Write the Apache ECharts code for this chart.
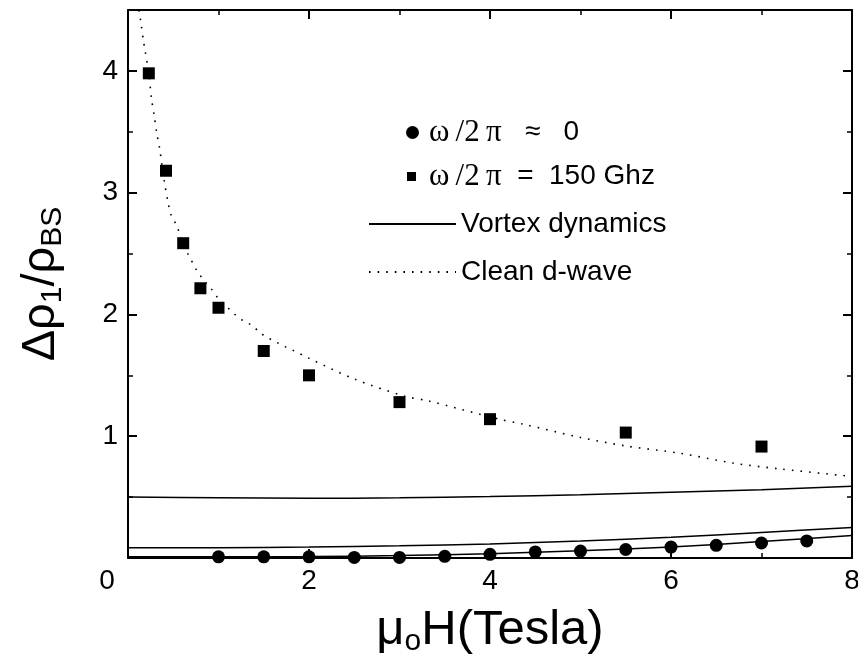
<!DOCTYPE html>
<html><head><meta charset="utf-8">
<script src="https://cdn.jsdelivr.net/npm/echarts@6/dist/echarts.min.js"></script>
<style>html,body{margin:0;padding:0;background:#fff}#c{width:858px;height:656px}</style>
</head><body><div id="c"></div>
<script>
// Magnetic field (Tesla) and Δρ1/ρBS values
const staticField = [1.0, 1.5, 2.0, 2.5, 3.0, 3.5, 4.0, 4.5, 5.0, 5.5, 6.0, 6.5, 7.0, 7.5];
const staticRho   = [0.01, 0.01, 0.01, 0.005, 0.005, 0.014, 0.03, 0.05, 0.057, 0.07, 0.09, 0.104, 0.123, 0.14];

const ghzField = [0.23, 0.42, 0.61, 0.80, 1.0, 1.5, 2.0, 3.0, 4.0, 5.5, 7.0];
const ghzRho   = [3.98, 3.18, 2.585, 2.215, 2.055, 1.70, 1.50, 1.28, 1.14, 1.03, 0.915];

const vortexField  = [0, 1, 2, 3, 4, 5, 6, 7, 8];
const vortexUpper  = [0.50, 0.495, 0.49, 0.495, 0.505, 0.52, 0.54, 0.56, 0.59];
const vortexMiddle = [0.085, 0.085, 0.09, 0.10, 0.115, 0.14, 0.17, 0.21, 0.25];
const vortexLower  = [0.01, 0.01, 0.012, 0.02, 0.035, 0.06, 0.09, 0.135, 0.185];

const dwaveField = [0.12, 0.14, 0.17, 0.19, 0.23, 0.26, 0.29, 0.32, 0.35, 0.40, 0.44, 0.48, 0.54, 0.57, 0.61, 0.66, 0.71, 0.77, 0.85, 0.92, 1.0, 1.09, 1.18, 1.27, 1.37, 1.46, 1.54, 1.62, 1.72, 1.81, 2.0, 2.5, 3.05, 3.32, 4.1, 4.36, 5.0, 5.5, 6.1, 6.68, 7.22, 8.0];
const dwaveRho   = [4.5, 4.41, 4.25, 4.16, 3.98, 3.77, 3.63, 3.48, 3.36, 3.10, 2.93, 2.81, 2.73, 2.66, 2.585, 2.50, 2.43, 2.35, 2.27, 2.21, 2.13, 2.065, 2.0, 1.95, 1.91, 1.85, 1.81, 1.78, 1.74, 1.71, 1.64, 1.47, 1.33, 1.29, 1.14, 1.10, 0.99, 0.92, 0.86, 0.78, 0.73, 0.67];

const xTicks = [0, 2, 4, 6, 8];
const yTicks = [0, 1, 2, 3, 4];

const nameStatic = 'ω/2π   ≈   0';
const nameGhz = 'ω/2π  =  150 Ghz';
const nameVortex = 'Vortex dynamics';
const nameDwave = 'Clean d-wave';

const pair = (xs, ys) => xs.map((x, i) => [x, ys[i]]);
const FONT = "'Liberation Sans', Arial, sans-serif";

const chart = echarts.init(document.getElementById('c'), null, {renderer: 'canvas'});

const axisCommon = {
  type: 'value',
  axisLine: {show: true, onZero: false, lineStyle: {color: '#000', width: 2}},
  axisTick: {show: true, inside: true, length: 9, lineStyle: {color: '#000', width: 2}},
  minorTick: {show: true, splitNumber: 2, length: 5, lineStyle: {color: '#000', width: 1.5}},
  splitLine: {show: false},
  minorSplitLine: {show: false}
};

const legendFormatter = n => n.replace('ω/2π', '{g|ω\u2009/2\u2009π}');
const legendText = {
  fontFamily: FONT, fontSize: 28, color: '#000', lineHeight: 30,
  rich: {g: {fontFamily: "'Liberation Serif', serif", fontSize: 31, lineHeight: 30, color: '#000'}}
};
const noSymbol = {color: 'rgba(0,0,0,0)', borderColor: 'rgba(0,0,0,0)', borderWidth: 0, opacity: 0};

chart.setOption({
  animation: false,
  backgroundColor: '#fff',
  grid: {left: 128, right: 6, top: 10, bottom: 98, containLabel: false, outerBoundsMode: 'none'},
  legend: [
    {data: [{name: nameStatic, icon: 'circle'}], left: 401, top: 112, itemWidth: 13, itemHeight: 13,
     selectedMode: false, formatter: legendFormatter, textStyle: Object.assign({padding: [0, 0, 0, 5]}, legendText)},
    {data: [{name: nameGhz, icon: 'rect'}], left: 402, top: 156, itemWidth: 9, itemHeight: 9,
     selectedMode: false, formatter: legendFormatter, textStyle: Object.assign({padding: [0, 0, 0, 8]}, legendText)},
    {data: [{name: nameVortex, itemStyle: noSymbol}, {name: nameDwave, itemStyle: noSymbol}],
     left: 363, top: 204, orient: 'vertical', itemWidth: 87, itemHeight: 14, itemGap: 18,
     selectedMode: false, textStyle: legendText}
  ],
  xAxis: [
    Object.assign({}, axisCommon, {
      position: 'bottom', min: 0, max: 8, interval: 2,
      axisLabel: {
        show: true, margin: 9, color: '#000', fontFamily: FONT, fontSize: 28,
        formatter: v => xTicks.includes(v) ? (v === 0 ? '{z|0}' : String(v)) : '',
        rich: {z: {fontFamily: FONT, fontSize: 28, color: '#000', padding: [0, 42, 0, 0]}}
      },
      name: '{m|μ}{o|o}{n|H(Tesla)}',
      nameLocation: 'middle', nameGap: 45,
      nameTextStyle: {
        color: '#000',
        rich: {
          m: {fontFamily: FONT, fontSize: 49, lineHeight: 54, verticalAlign: 'middle', color: '#000'},
          o: {fontFamily: FONT, fontSize: 30, lineHeight: 28, verticalAlign: 'bottom', color: '#000'},
          n: {fontFamily: FONT, fontSize: 49, lineHeight: 54, verticalAlign: 'middle', color: '#000'}
        }
      }
    }),
    Object.assign({}, axisCommon, {position: 'top', min: 0, max: 8, interval: 2, axisLabel: {show: false}})
  ],
  yAxis: [
    Object.assign({}, axisCommon, {
      position: 'left', min: 0, max: 4.5, interval: 1,
      axisLabel: {
        show: true, margin: 10, color: '#000', fontFamily: FONT, fontSize: 28,
        formatter: v => (yTicks.includes(v) && v !== 0) ? String(v) : ''
      },
      name: '{d|Δρ}{s|1}{d|/ρ}{s|BS}',
      nameLocation: 'middle', nameRotate: 90, nameGap: 60,
      nameTextStyle: {
        color: '#000',
        rich: {
          d: {fontFamily: FONT, fontSize: 47, lineHeight: 54, verticalAlign: 'middle', color: '#000'},
          s: {fontFamily: FONT, fontSize: 30, lineHeight: 30, verticalAlign: 'bottom', color: '#000'}
        }
      }
    }),
    Object.assign({}, axisCommon, {position: 'right', min: 0, max: 4.5, interval: 1, axisLabel: {show: false}})
  ],
  series: [
    {name: nameVortex, type: 'line', data: pair(vortexField, vortexUpper), smooth: 0.3, showSymbol: false, symbol: 'none',
     lineStyle: {color: '#000', width: 1.5, type: 'solid'}, itemStyle: {color: '#000'}, z: 2},
    {name: nameVortex, type: 'line', data: pair(vortexField, vortexMiddle), smooth: 0.3, showSymbol: false, symbol: 'none',
     lineStyle: {color: '#000', width: 1.5, type: 'solid'}, itemStyle: {color: '#000'}, z: 2},
    {name: nameVortex, type: 'line', data: pair(vortexField, vortexLower), smooth: 0.3, showSymbol: false, symbol: 'none',
     lineStyle: {color: '#000', width: 1.5, type: 'solid'}, itemStyle: {color: '#000'}, z: 2},
    {name: nameDwave, type: 'line', data: pair(dwaveField, dwaveRho), smooth: 0.3, showSymbol: false, symbol: 'none',
     lineStyle: {color: '#000', width: 1.6, type: [1.6, 7]}, itemStyle: {color: '#000'}, z: 2},
    {name: nameStatic, type: 'scatter', data: pair(staticField, staticRho), symbol: 'circle', symbolSize: 13,
     itemStyle: {color: '#000', opacity: 1}, z: 3, clip: false},
    {name: nameGhz, type: 'scatter', data: pair(ghzField, ghzRho), symbol: 'rect', symbolSize: 12,
     itemStyle: {color: '#000', opacity: 1}, z: 3, clip: false}
  ]
});
</script></body></html>
